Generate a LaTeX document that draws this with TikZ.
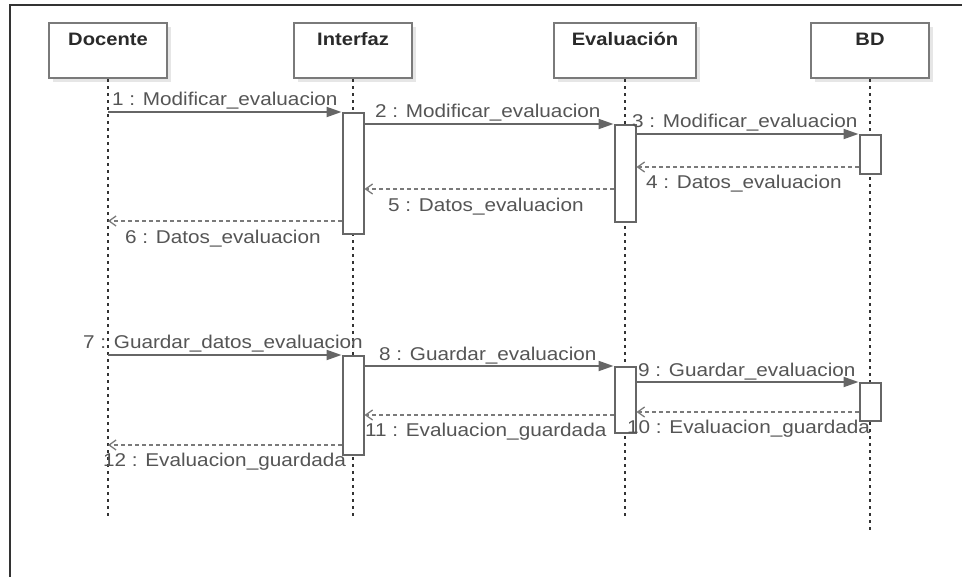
\documentclass[tikz,border=0pt]{standalone}
\usepackage{fontspec}
\usetikzlibrary{arrows.meta}
\newfontfamily\lblfont[FakeStretch=1.12]{Liberation Sans}
\definecolor{framec}{HTML}{333333}
\definecolor{boxc}{HTML}{7A7A7A}
\definecolor{barc}{HTML}{666666}
\definecolor{msgc}{HTML}{666666}
\definecolor{retc}{HTML}{7A7A7A}
\definecolor{txtc}{HTML}{555555}
\definecolor{titlec}{HTML}{2A2A2A}
\definecolor{shadowc}{HTML}{E6E6E6}
\tikzset{
  objbox/.style={draw=boxc, line width=2.5pt, fill=white, minimum height=55pt, inner sep=0pt},
  objshadow/.style={fill=shadowc, draw=none, minimum height=55pt, inner sep=0pt},
  objtitle/.style={anchor=base, inner sep=0pt, text=titlec, font=\lblfont\bfseries\fontsize{18}{20}\selectfont},
  lifeline/.style={draw=framec, line width=1.6pt, dash pattern=on 3pt off 4pt},
  actbar/.style={draw=barc, line width=2pt, fill=white, minimum width=21pt, inner sep=0pt, anchor=north},
  call/.style={draw=msgc, line width=2pt, -{Triangle[length=15pt,width=10pt]}},
  ret/.style={draw=retc, line width=1.6pt, dash pattern=on 4pt off 3pt, -{Straight Barb[length=7pt,width=10pt,line width=1.3pt]}},
  msglabel/.style={anchor=base west, inner sep=0pt, text=txtc, font=\lblfont\fontsize{18.5}{20}\selectfont},
}
\begin{document}
\begin{tikzpicture}[x=1pt,y=-1pt]
\useasboundingbox (0,0) rectangle (962,577);
\fill[white] (0,0) rectangle (962,577);
% outer frame (top and left edges)
\draw[framec, line width=1.5pt] (10,577) -- (10,5) -- (962,5);

% object shadows
\node[objshadow, minimum width=118pt] at (112,54.5) {};
\node[objshadow, minimum width=118pt] at (357,54.5) {};
\node[objshadow, minimum width=142pt] at (629,54.5) {};
\node[objshadow, minimum width=118pt] at (874,54.5) {};

% objects
\node[objbox, minimum width=118pt] (doc) at (108,50.5) {};
\node[objbox, minimum width=118pt] (int) at (353,50.5) {};
\node[objbox, minimum width=142pt] (eva) at (625,50.5) {};
\node[objbox, minimum width=118pt] (bd)  at (870,50.5) {};
\node[objtitle] (tdoc) at (108,46) {Docente};
\node[objtitle] (tint) at (353,46) {Interfaz};
\node[objtitle] (teva) at (625,46) {Evaluación};
\node[objtitle] (tbd)  at (870,46) {BD};

% lifeline ends
\coordinate (docend) at (108,520);
\coordinate (intend) at (353,520);
\coordinate (evaend) at (625,520);
\coordinate (bdend)  at (870,530);
\draw[lifeline] (doc.south) -- (docend);
\draw[lifeline] (int.south) -- (intend);
\draw[lifeline] (eva.south) -- (evaend);
\draw[lifeline] (bd.south)  -- (bdend);

% activation bars
\node[actbar, minimum height=121pt] (ib1) at (353,112) {};
\node[actbar, minimum height=97pt]  (eb1) at (625,124) {};
\node[actbar, minimum height=39pt]  (bb1) at (870,134) {};
\node[actbar, minimum height=99pt]  (ib2) at (353,355) {};
\node[actbar, minimum height=66pt]  (eb2) at (625,366) {};
\node[actbar, minimum height=38pt]  (bb2) at (870,382) {};

% message rows
\coordinate (d1)  at (108,112);
\coordinate (y4)  at (0,167);
\coordinate (y5)  at (0,189);
\coordinate (d6)  at (108,221);
\coordinate (d7)  at (108,355);
\coordinate (y10) at (0,412);
\coordinate (y11) at (0,415);
\coordinate (d12) at (108,445);

% first interaction
\draw[call] (d1) -- (ib1.north west);
\draw[call] (ib1.east |- eb1.north) -- (eb1.north west);
\draw[call] (eb1.east |- bb1.north) -- (bb1.north west);
\draw[ret] (bb1.west |- y4) -- (eb1.east |- y4);
\draw[ret] (eb1.west |- y5) -- (ib1.east |- y5);
\draw[ret] (ib1.west |- d6) -- (d6);

% second interaction
\draw[call] (d7) -- (ib2.north west);
\draw[call] (ib2.east |- eb2.north) -- (eb2.north west);
\draw[call] (eb2.east |- bb2.north) -- (bb2.north west);
\draw[ret] (bb2.west |- y10) -- (eb2.east |- y10);
\draw[ret] (eb2.west |- y11) -- (ib2.east |- y11);
\draw[ret] (ib2.west |- d12) -- (d12);

% message labels
\node[msglabel] (l1)  at (112,106) {1 : Modificar\_evaluacion};
\node[msglabel] (l2)  at (375,118) {2 : Modificar\_evaluacion};
\node[msglabel] (l3)  at (632,128) {3 : Modificar\_evaluacion};
\node[msglabel] (l4)  at (646,189) {4 : Datos\_evaluacion};
\node[msglabel] (l5)  at (388,212) {5 : Datos\_evaluacion};
\node[msglabel] (l6)  at (125,244) {6 : Datos\_evaluacion};
\node[msglabel] (l7)  at (83,349)  {7 : Guardar\_datos\_evaluacion};
\node[msglabel] (l8)  at (379,361) {8 : Guardar\_evaluacion};
\node[msglabel] (l9)  at (638,377) {9 : Guardar\_evaluacion};
\node[msglabel] (l10) at (627,434) {10 : Evaluacion\_guardada};
\node[msglabel] (l11) at (365,436) {11 : Evaluacion\_guardada};
\node[msglabel] (l12) at (103,467) {12 : Evaluacion\_guardada};
\end{tikzpicture}
\end{document}
